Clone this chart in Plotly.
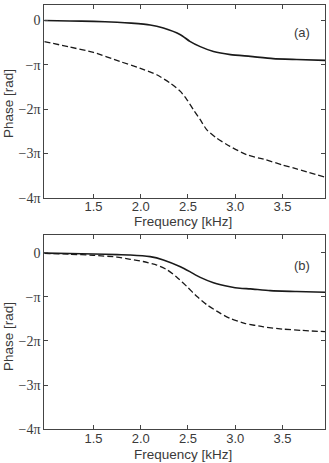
import plotly.graph_objects as go

# Frequency samples [kHz]; phases in units of pi [rad]
freq_a_solid = [0.98, 1.25, 1.5, 1.75, 1.9, 2.1, 2.24, 2.42, 2.52, 2.63, 2.77, 2.95, 3.16, 3.4, 3.65, 3.95]
phase_a_solid = [0.0, -0.01, -0.02, -0.04, -0.06, -0.10, -0.17, -0.32, -0.47, -0.59, -0.70, -0.77, -0.81, -0.86, -0.88, -0.90]

freq_a_dash = [0.98, 1.25, 1.5, 1.78, 1.99, 2.17, 2.31, 2.42, 2.49, 2.56, 2.63, 2.70, 2.80, 2.945, 3.12, 3.30, 3.5, 3.65, 3.95]
phase_a_dash = [-0.475, -0.60, -0.72, -0.925, -1.075, -1.225, -1.41, -1.60, -1.79, -2.02, -2.24, -2.47, -2.65, -2.84, -3.03, -3.13, -3.26, -3.35, -3.535]

freq_b_solid = [0.98, 1.25, 1.5, 1.75, 1.89, 2.10, 2.24, 2.42, 2.52, 2.63, 2.77, 2.945, 3.05, 3.16, 3.37, 3.65, 3.95]
phase_b_solid = [-0.01, -0.02, -0.03, -0.045, -0.052, -0.09, -0.165, -0.32, -0.43, -0.56, -0.68, -0.77, -0.805, -0.82, -0.86, -0.88, -0.895]

freq_b_dash = [0.98, 1.25, 1.5, 1.75, 1.89, 2.025, 2.17, 2.28, 2.385, 2.49, 2.596, 2.70, 2.84, 2.945, 3.1, 3.3, 3.5, 3.7, 3.95]
phase_b_dash = [-0.015, -0.035, -0.06, -0.10, -0.15, -0.20, -0.28, -0.39, -0.56, -0.77, -0.995, -1.18, -1.37, -1.49, -1.60, -1.68, -1.73, -1.76, -1.79]

ytick_vals = [0, -1, -2, -3, -4]
ytick_text = ["0", "\u2212\u03c0", "\u22122\u03c0", "\u22123\u03c0", "\u22124\u03c0"]
xtick_vals = [1.5, 2.0, 2.5, 3.0, 3.5]
xtick_text = ["1.5", "2.0", "2.5", "3.0", "3.5"]
panel_labels = ["(a)", "(b)"]

W, H = 329, 463
line_col = "#1a1a1a"
axis_col = "#444444"
text_col = "#3a3a3a"
SM = 0.6

fig = go.Figure()
fig.add_trace(go.Scatter(x=freq_a_solid, y=phase_a_solid, mode="lines",
                         line=dict(color=line_col, width=1.6, shape="spline", smoothing=SM),
                         xaxis="x", yaxis="y", showlegend=False))
fig.add_trace(go.Scatter(x=freq_a_dash, y=phase_a_dash, mode="lines",
                         line=dict(color=line_col, width=1.3, dash="6px,3px", shape="spline", smoothing=SM),
                         xaxis="x", yaxis="y", showlegend=False))
fig.add_trace(go.Scatter(x=freq_b_solid, y=phase_b_solid, mode="lines",
                         line=dict(color=line_col, width=1.6, shape="spline", smoothing=SM),
                         xaxis="x2", yaxis="y2", showlegend=False))
fig.add_trace(go.Scatter(x=freq_b_dash, y=phase_b_dash, mode="lines",
                         line=dict(color=line_col, width=1.3, dash="6px,3px", shape="spline", smoothing=SM),
                         xaxis="x2", yaxis="y2", showlegend=False))

xdom = [44.3 / W, 325 / W]
ydom_a = [1 - 197.7 / H, 1 - 5 / H]
ydom_b = [1 - 429.3 / H, 1 - 235 / H]

xaxis_common = dict(range=[0.98, 3.95], tickvals=xtick_vals, ticktext=xtick_text,
                    ticks="inside", ticklen=4, tickcolor=axis_col, showline=True,
                    linecolor=axis_col, linewidth=1, mirror="ticks", showgrid=False,
                    zeroline=False, domain=xdom, automargin=False,
                    tickfont=dict(family="Liberation Sans", size=13, color=text_col))
yaxis_common = dict(tickvals=ytick_vals, ticktext=ytick_text,
                    ticks="inside", ticklen=4, tickcolor=axis_col, showline=True,
                    linecolor=axis_col, linewidth=1, mirror="ticks", showgrid=False,
                    zeroline=False, automargin=False,
                    tickfont=dict(family="Liberation Serif", size=14, color=text_col))

fig.update_layout(
    width=W, height=H,
    margin=dict(l=0, r=0, t=0, b=0),
    paper_bgcolor="white", plot_bgcolor="white",
    xaxis=dict(**xaxis_common, anchor="y"),
    yaxis=dict(**yaxis_common, range=[-4, 0.35], domain=ydom_a, anchor="x"),
    xaxis2=dict(**xaxis_common, anchor="y2"),
    yaxis2=dict(**yaxis_common, range=[-4, 0.4], domain=ydom_b, anchor="x2"),
)
try:
    fig.update_xaxes(ticklabelstandoff=-3)
except Exception:
    pass

annots = []
for lbl, yc, yt, ylab in [(panel_labels[0], 33, 222, 104), (panel_labels[1], 265, 454, 337)]:
    annots.append(dict(text=lbl, x=301.7 / W, y=1 - yc / H, xref="paper", yref="paper",
                       showarrow=False, xanchor="center", yanchor="middle",
                       font=dict(family="Liberation Sans", size=13, color=text_col)))
    annots.append(dict(text="Frequency [kHz]", x=183 / W, y=1 - yt / H, xref="paper", yref="paper",
                       showarrow=False, xanchor="center", yanchor="middle",
                       font=dict(family="Liberation Sans", size=13.5, color=text_col)))
    annots.append(dict(text="Phase [rad]", x=8 / W, y=1 - ylab / H, xref="paper", yref="paper",
                       showarrow=False, xanchor="center", yanchor="middle", textangle=-90,
                       font=dict(family="Liberation Sans", size=13.5, color=text_col)))
fig.update_layout(annotations=annots)

fig.write_html("out.html")
